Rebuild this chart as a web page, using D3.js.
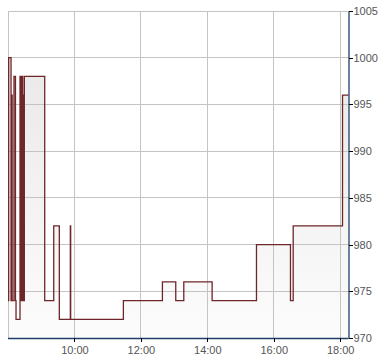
<!DOCTYPE html>
<html>
<head>
<meta charset="utf-8">
<script src="https://cdn.jsdelivr.net/npm/d3@7/dist/d3.min.js"></script>
<style>
  html, body { margin: 0; padding: 0; background: #fff; }
  svg { display: block; }
  text { font-family: "Liberation Sans", Arial, sans-serif; font-size: 11px; fill: #555; }
</style>
</head>
<body>
<svg id="chart" width="390" height="364"></svg>
<script>
// Data: step series, times in minutes after 08:00, values (price level)
const times  = [0, 1.2, 5.5, 6, 7.5, 10.8, 13.5, 14.5, 21.7, 23, 25.3, 26.5, 27.5, 29.5,
                66.3, 82.6, 92.7, 112.6, 113.2, 208.4, 278.9, 303, 317.5, 368.7,
                448.8, 510.2, 515.1, 604.2, 615];
const values = [974, 1000, 974, 996, 974, 998, 974, 972, 998, 974, 998, 996, 974, 998,
                974, 982, 972, 982, 972, 974, 976, 974, 976, 974,
                980, 974, 982, 996, 996];
const yTicks = [970, 975, 980, 985, 990, 995, 1000, 1005];
const xTickHours = [10, 12, 14, 16, 18];
const xGridHours = [8, 10, 12, 14, 16, 18];
const xDomain = ["2000-01-01T08:00:00", "2000-01-01T18:15:00"];
const yDomain = [970, 1005];

const base = new Date("2000-01-01T08:00:00");
const data = times.map((t, i) => ({ date: new Date(base.getTime() + t * 60000), value: values[i] }));

const L = 8, R = 348.5, T = 11, B = 338;
const svg = d3.select("#chart");

const x = d3.scaleTime().domain(xDomain.map(s => new Date(s))).range([L, R]);
const y = d3.scaleLinear().domain(yDomain).range([B, T]);

// gradient
const defs = svg.append("defs");
const grad = defs.append("linearGradient").attr("id", "areaGrad")
  .attr("gradientUnits", "userSpaceOnUse").attr("x1", 0).attr("x2", 0).attr("y1", T).attr("y2", B);
grad.append("stop").attr("offset", "0%").attr("stop-color", "#e6e6e6");
grad.append("stop").attr("offset", "100%").attr("stop-color", "#fcfcfc");

// area
const area = d3.area().curve(d3.curveStepAfter).x(d => x(d.date)).y0(B).y1(d => y(d.value));
svg.append("path").datum(data).attr("d", area).attr("fill", "url(#areaGrad)");

// grid
const hourDate = h => new Date(base.getTime() + (h - 8) * 3600000);
const grid = svg.append("g").attr("stroke", "#c4c4c4").attr("stroke-width", 1).attr("shape-rendering", "crispEdges");
grid.selectAll("line.v").data(xGridHours).join("line").attr("class", "v")
  .attr("x1", h => x(hourDate(h))).attr("x2", h => x(hourDate(h)))
  .attr("y1", T).attr("y2", B);
grid.selectAll("line.h").data(yTicks.filter(v => v > 970)).join("line").attr("class", "h")
  .attr("x1", L).attr("x2", R).attr("y1", d => y(d)).attr("y2", d => y(d));

// line
const line = d3.line().curve(d3.curveStepAfter).x(d => x(d.date)).y(d => y(d.value));
svg.append("path").datum(data).attr("d", line)
  .attr("fill", "none").attr("stroke", "#6e262b").attr("stroke-width", 1.3);

// axes
const xAxis = d3.axisBottom(x).tickValues(xTickHours.map(hourDate))
  .tickFormat(d3.timeFormat("%H:%M")).tickSize(4).tickSizeOuter(0).tickPadding(4);
const gx = svg.append("g").attr("transform", `translate(0,${B})`).call(xAxis);
gx.select(".domain").attr("stroke", "#1f3d6b").attr("stroke-width", 1.3).attr("d", `M${L},0.5H${R}`);
gx.selectAll(".tick line").attr("stroke", "#000").attr("shape-rendering", "crispEdges");
gx.selectAll(".tick text").style("font-family", '"Liberation Sans", Arial, sans-serif').style("font-size", "11px").attr("fill", "#555");

const yAxis = d3.axisRight(y).tickValues(yTicks).tickFormat(d3.format("d"))
  .tickSize(4).tickSizeOuter(0).tickPadding(1);
const gy = svg.append("g").attr("transform", `translate(${R},0)`).call(yAxis);
gy.select(".domain").attr("stroke", "#1f3d6b").attr("stroke-width", 1.3);
gy.selectAll(".tick line").attr("stroke", "#000").attr("shape-rendering", "crispEdges");
gy.selectAll(".tick text").style("font-family", '"Liberation Sans", Arial, sans-serif').style("font-size", "11px").attr("fill", "#555");
</script>
</body>
</html>
